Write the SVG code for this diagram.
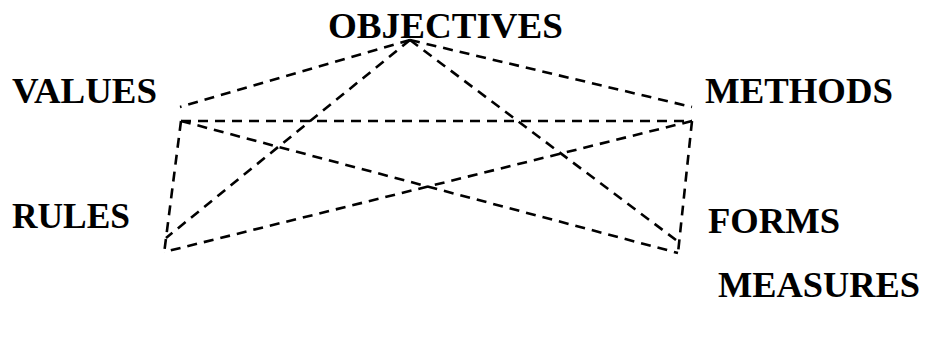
<svg xmlns="http://www.w3.org/2000/svg" width="926" height="343" viewBox="0 0 926 343">
<style>
.lbl{font-family:"Liberation Serif","Times New Roman",serif;font-weight:bold;font-size:35px;fill:#000}
.dl{stroke:#000;stroke-width:2.6;stroke-dasharray:10 7;fill:none}
</style>
<rect width="926" height="343" fill="#fff"/>
<g id="connectors">
<line class="dl" x1="410" y1="40" x2="180" y2="107"/>
<line class="dl" x1="410" y1="40" x2="692" y2="107"/>
<line class="dl" x1="410" y1="40" x2="166" y2="238"/>
<line class="dl" x1="410" y1="40" x2="676" y2="240"/>
<line class="dl" x1="181" y1="121" x2="692" y2="121"/>
<line class="dl" x1="181" y1="121" x2="678" y2="253"/>
<line class="dl" x1="692" y1="121" x2="164" y2="252"/>
<line class="dl" x1="181" y1="121" x2="164" y2="254"/>
<line class="dl" x1="692" y1="121" x2="678" y2="253"/>
</g>
<g id="objectives"><text class="lbl" x="328" y="38" textLength="235" lengthAdjust="spacingAndGlyphs">OBJECTIVES</text></g>
<g id="values"><text class="lbl" x="12" y="103" textLength="145" lengthAdjust="spacingAndGlyphs">VALUES</text></g>
<g id="methods"><text class="lbl" x="705" y="103" textLength="188" lengthAdjust="spacingAndGlyphs">METHODS</text></g>
<g id="rules"><text class="lbl" x="12" y="228" textLength="118" lengthAdjust="spacingAndGlyphs">RULES</text></g>
<g id="forms"><text class="lbl" x="708" y="233" textLength="132" lengthAdjust="spacingAndGlyphs">FORMS</text></g>
<g id="measures"><text class="lbl" x="718" y="297" textLength="202" lengthAdjust="spacingAndGlyphs">MEASURES</text></g>
</svg>
